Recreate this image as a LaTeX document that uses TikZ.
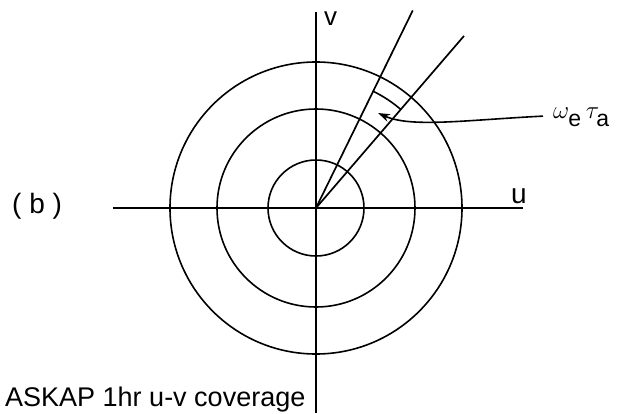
\documentclass[tikz,border=0pt]{standalone}
\usepackage{fontspec}
\setmainfont{Liberation Sans}
\usepackage{tikz}
\usetikzlibrary{calc,arrows.meta,positioning}
\tikzset{
  axis/.style={line width=2pt,black},
  ring/.style={line width=1.6pt,black},
  ray/.style={line width=1.7pt,black},
  ar/.style={-{Stealth[length=12pt,width=8pt]},line width=1.6pt,black},
  lbl/.style={inner sep=0pt,anchor=base west}
}
\newcommand{\subtxt}[1]{\raisebox{-5pt}{\fontsize{23}{23}\selectfont #1}}
\begin{document}
\begin{tikzpicture}[x=1pt,y=1pt]
\useasboundingbox (-316,-205) rectangle (303,208);
\coordinate (o) at (0,0);
% axes
\coordinate (uL) at (-203,0);
\coordinate (uR) at (207,0);
\coordinate (vT) at (0,196);
\coordinate (vB) at (0,-205);
\draw[axis] (uL)--(uR);
\draw[axis] (vT)--(vB);
% circles
\foreach \r in {48,99,146} \draw[ring] (o) circle (\r);
% rays and angle
\coordinate (r1) at (63.9:220);
\coordinate (r2) at (49.3:227);
\draw[ray] (o)--(r1);
\draw[ray] (o)--(r2);
\draw[ring] ([shift={(49.3:130)}]o) arc (49.3:63.9:130);
% labels
\node[lbl,font=\fontsize{26}{28}\selectfont] (v) at (8,183) {v};
\node[lbl,font=\fontsize{28}{30}\selectfont] (u) at (195,5) {u};
\node[lbl,font=\fontsize{28}{30}\selectfont] (b) at (-304,-5) {( b )};
\node[lbl,font=\fontsize{27}{29}\selectfont] (w) at (237,90)
  {$\omega_{\subtxt{e}}\,\tau_{\subtxt{a}}$};
\draw[ar] ([xshift=-10pt,yshift=1pt]w.west) .. controls (150,88) and (95,80) .. (62,95);
\node[lbl,font=\fontsize{27}{30}\selectfont] (cap) at (-311,-198.7) {ASKAP 1hr u-v coverage};
\end{tikzpicture}
\end{document}
